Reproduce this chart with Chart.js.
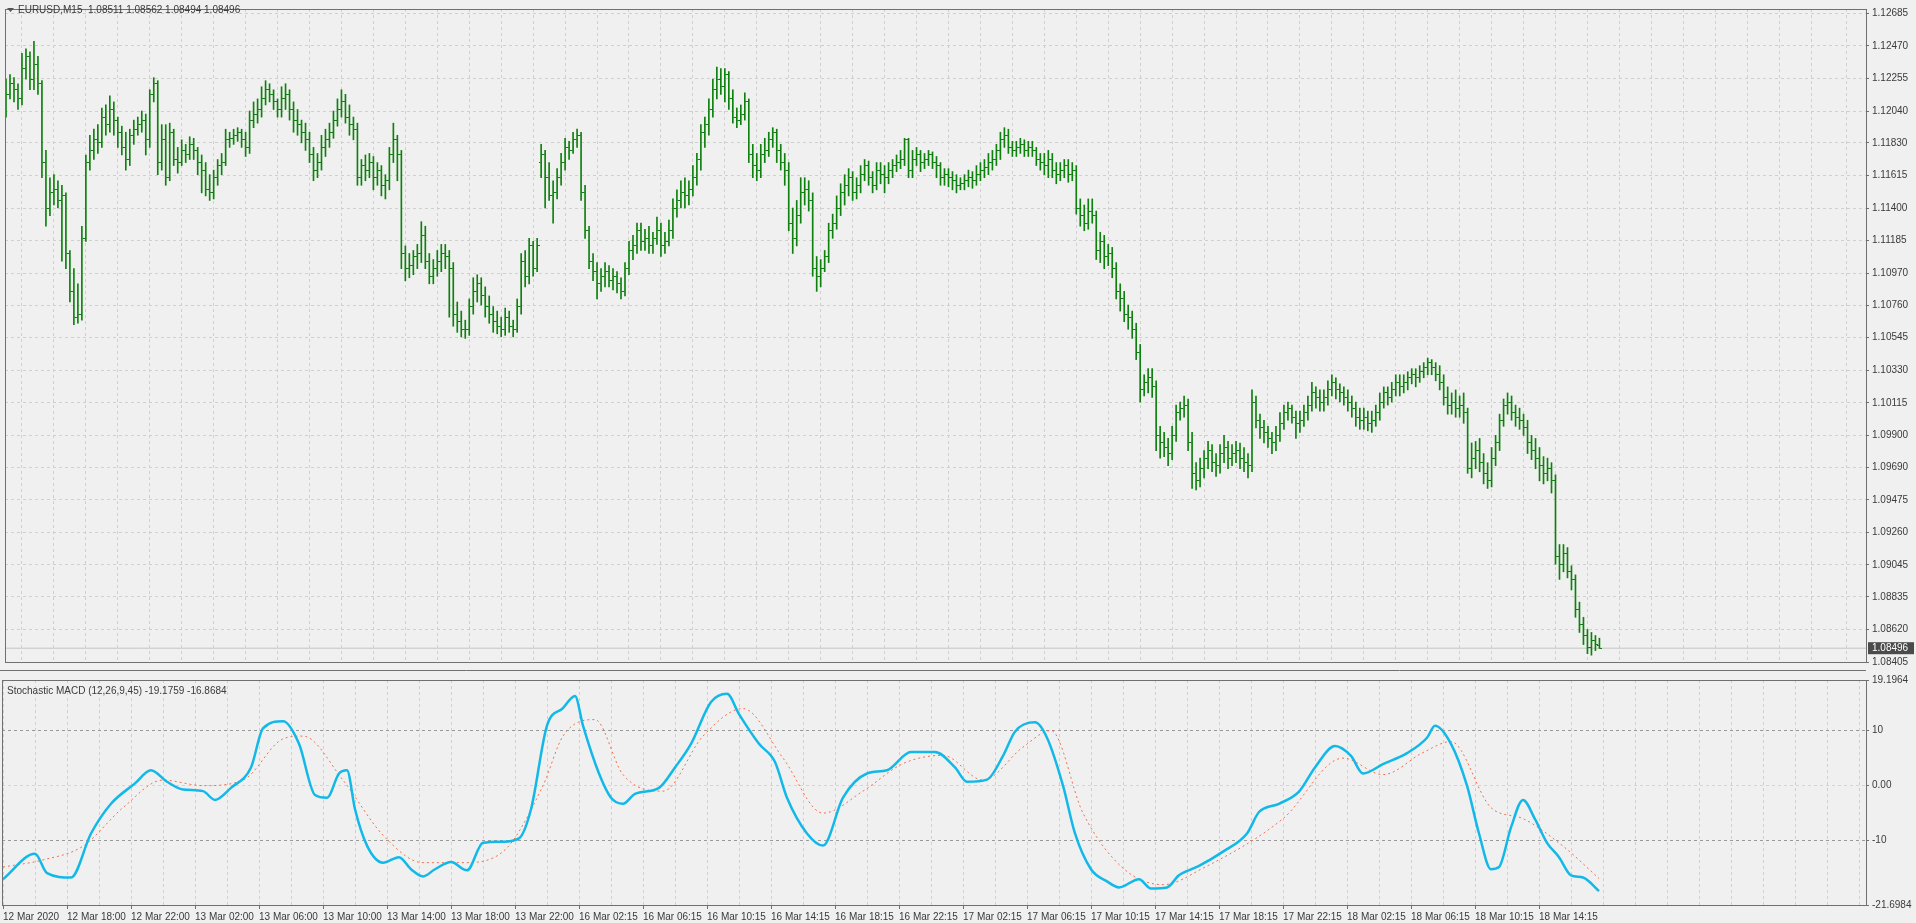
<!DOCTYPE html>
<html><head><meta charset="utf-8">
<script src="https://cdn.jsdelivr.net/npm/chart.js@4/dist/chart.umd.min.js"></script>
<style>
html,body{margin:0;padding:0;background:#f0f0f0;overflow:hidden;}
#wrap{position:relative;width:1916px;height:923px;background:#f0f0f0;}
canvas{position:absolute;left:0;}
</style></head><body><div id="wrap">
<canvas id="top" width="1916" height="671" style="top:0"></canvas>
<canvas id="bot" width="1916" height="252" style="top:671px"></canvas>
</div>
<script>
const symbolTitle = "EURUSD,M15  1.08511 1.08562 1.08494 1.08496";
const oscTitle = "Stochastic MACD (12,26,9,45) -19.1759 -16.8684";
const lastPrice = 1.08496;
const priceTicks = [1.12685,1.12470,1.12255,1.12040,1.11830,1.11615,1.11400,1.11185,1.10970,1.10760,1.10545,1.10330,1.10115,1.09900,1.09690,1.09475,1.09260,1.09045,1.08835,1.08620,1.08405];
const oscTicks = [-21.6984,-10,0,10,19.1964];
const oscTickLabels = ["-21.6984","-10","0.00","10","19.1964"];
const timeLabels = ["12 Mar 2020","12 Mar 18:00","12 Mar 22:00","13 Mar 02:00","13 Mar 06:00","13 Mar 10:00","13 Mar 14:00","13 Mar 18:00","13 Mar 22:00","16 Mar 02:15","16 Mar 06:15","16 Mar 10:15","16 Mar 14:15","16 Mar 18:15","16 Mar 22:15","17 Mar 02:15","17 Mar 06:15","17 Mar 10:15","17 Mar 14:15","17 Mar 18:15","17 Mar 22:15","18 Mar 02:15","18 Mar 06:15","18 Mar 10:15","18 Mar 14:15"];

const openP = [1.1210,1.1215,1.1222,1.1218,1.1212,1.1232,1.1240,1.1225,1.1235,1.1222,
1.1170,1.1140,1.1150,1.1152,1.1145,1.1148,1.1110,1.1085,1.1068,1.1070,
1.1120,1.1170,1.1178,1.1185,1.1183,1.1200,1.1195,1.1205,1.1198,1.1190,
1.1180,1.1172,1.1188,1.1192,1.1195,1.1198,1.1185,1.1215,1.1222,1.1170,
1.1185,1.1160,1.1190,1.1172,1.1170,1.1178,1.1175,1.1182,1.1178,1.1170,
1.1165,1.1152,1.1150,1.1160,1.1168,1.1170,1.1185,1.1186,1.1188,1.1190,
1.1185,1.1180,1.1198,1.1202,1.1205,1.1212,1.1218,1.1215,1.1210,1.1205,
1.1212,1.1215,1.1205,1.1198,1.1195,1.1190,1.1185,1.1175,1.1165,1.1170,
1.1180,1.1185,1.1190,1.1198,1.1205,1.1210,1.1200,1.1195,1.1192,1.1160,
1.1168,1.1165,1.1170,1.1160,1.1165,1.1155,1.1158,1.1175,1.1185,1.1175,
1.1110,1.1100,1.1102,1.1108,1.1110,1.1122,1.1105,1.1095,1.1100,1.1105,
1.1110,1.1108,1.1100,1.1070,1.1065,1.1060,1.1060,1.1075,1.1085,1.1090,
1.1082,1.1075,1.1070,1.1065,1.1062,1.1060,1.1068,1.1062,1.1060,1.1075,
1.1105,1.1095,1.1115,1.1100,1.1170,1.1175,1.1160,1.1148,1.1150,1.1160,
1.1170,1.1180,1.1178,1.1185,1.1188,1.1150,1.1125,1.1105,1.1098,1.1090,
1.1095,1.1098,1.1092,1.1095,1.1090,1.1085,1.1100,1.1112,1.1115,1.1125,
1.1118,1.1120,1.1115,1.1120,1.1125,1.1115,1.1118,1.1125,1.1140,1.1145,
1.1150,1.1148,1.1152,1.1160,1.1172,1.1190,1.1195,1.1205,1.1218,1.1225,
1.1220,1.1228,1.1212,1.1200,1.1198,1.1202,1.1210,1.1175,1.1168,1.1165,
1.1175,1.1178,1.1185,1.1190,1.1178,1.1170,1.1165,1.1130,1.1120,1.1135,
1.1150,1.1152,1.1145,1.1100,1.1095,1.1100,1.1108,1.1125,1.1130,1.1140,
1.1150,1.1155,1.1160,1.1150,1.1155,1.1162,1.1168,1.1160,1.1155,1.1165,
1.1162,1.1160,1.1165,1.1168,1.1170,1.1172,1.1185,1.1165,1.1172,1.1175,
1.1170,1.1172,1.1175,1.1170,1.1168,1.1160,1.1162,1.1160,1.1158,1.1155,
1.1156,1.1158,1.1160,1.1158,1.1162,1.1165,1.1167,1.1170,1.1172,1.1178,
1.1185,1.1188,1.1180,1.1178,1.1180,1.1182,1.1178,1.1180,1.1178,1.1172,
1.1170,1.1168,1.1172,1.1165,1.1162,1.1165,1.1168,1.1162,1.1165,1.1140,
1.1135,1.1130,1.1138,1.1135,1.1112,1.1118,1.1108,1.1110,1.1100,1.1085,
1.1080,1.1070,1.1068,1.1060,1.1045,1.1020,1.1025,1.1028,1.1022,1.0990,
1.0985,1.0982,1.0978,1.0990,1.1005,1.1008,1.1010,1.0985,1.0965,1.0960,
1.0968,1.0975,1.0980,1.0972,1.0970,1.0978,1.0982,1.0975,1.0978,1.0980,
1.0975,1.0972,1.0970,1.1012,1.1000,1.0995,1.0992,1.0988,1.0985,1.0990,
1.0998,1.1005,1.1008,1.1002,1.0998,1.1000,1.1005,1.1010,1.1018,1.1015,
1.1012,1.1015,1.1020,1.1025,1.1020,1.1018,1.1015,1.1012,1.1008,1.1002,
1.1000,1.1002,1.0998,1.1000,1.1005,1.1012,1.1018,1.1015,1.1020,1.1025,
1.1022,1.1025,1.1028,1.1030,1.1028,1.1032,1.1035,1.1038,1.1035,1.1030,
1.1025,1.1015,1.1010,1.1012,1.1008,1.1010,1.1005,1.0968,1.0975,1.0980,
1.0972,1.0965,1.0960,1.0975,1.0985,1.1000,1.1010,1.1012,1.1005,1.1002,
1.1000,1.0995,1.0985,1.0980,1.0975,1.0970,1.0965,1.0968,1.0960,1.0910,
1.0905,1.0912,1.0900,1.0895,1.0875,1.0865,1.0858,1.0850,1.0855,1.08511];
const highP = [1.1225,1.1228,1.1226,1.1222,1.1242,1.1245,1.1243,1.1250,1.1240,1.1224,
1.1178,1.1160,1.1162,1.1158,1.1155,1.1150,1.1112,1.1100,1.1090,1.1128,
1.1175,1.1188,1.1192,1.1195,1.1206,1.1208,1.1214,1.1210,1.1200,1.1194,
1.1190,1.1192,1.1198,1.1200,1.1204,1.1202,1.1218,1.1226,1.1224,1.1195,
1.1195,1.1196,1.1192,1.1180,1.1185,1.1182,1.1187,1.1186,1.1180,1.1175,
1.1170,1.1162,1.1165,1.1172,1.1176,1.1192,1.1190,1.1192,1.1193,1.1192,
1.1190,1.1204,1.1210,1.1212,1.1220,1.1224,1.1222,1.1218,1.1212,1.1220,
1.1222,1.1218,1.1210,1.1205,1.1198,1.1196,1.1190,1.1180,1.1176,1.1188,
1.1192,1.1196,1.1204,1.1212,1.1218,1.1215,1.1208,1.1200,1.1196,1.1172,
1.1175,1.1176,1.1174,1.1170,1.1168,1.1162,1.1180,1.1196,1.1188,1.1178,
1.1115,1.1110,1.1112,1.1116,1.1131,1.1128,1.1110,1.1106,1.1112,1.1116,
1.1116,1.1112,1.1104,1.1078,1.1072,1.1066,1.1080,1.1094,1.1096,1.1094,
1.1088,1.1082,1.1075,1.1072,1.1068,1.1074,1.1072,1.1066,1.1080,1.1110,
1.1112,1.1120,1.1118,1.1120,1.1182,1.1178,1.1170,1.1158,1.1166,1.1176,
1.1186,1.1184,1.1190,1.1192,1.1190,1.1155,1.1128,1.1110,1.1104,1.1100,
1.1104,1.1102,1.1100,1.1098,1.1094,1.1104,1.1118,1.1122,1.1130,1.1130,
1.1126,1.1128,1.1124,1.1134,1.1130,1.1124,1.1132,1.1146,1.1152,1.1158,
1.1160,1.1158,1.1168,1.1176,1.1195,1.1200,1.1212,1.1225,1.1233,1.1232,
1.1232,1.1230,1.1218,1.1206,1.1208,1.1216,1.1212,1.1182,1.1176,1.1182,
1.1186,1.1190,1.1193,1.1192,1.1182,1.1176,1.1170,1.1140,1.1145,1.1160,
1.1160,1.1158,1.1150,1.1108,1.1106,1.1112,1.1130,1.1136,1.1148,1.1156,
1.1162,1.1166,1.1164,1.1160,1.1168,1.1172,1.1171,1.1164,1.1170,1.1170,
1.1168,1.1170,1.1172,1.1175,1.1178,1.1186,1.1186,1.1178,1.1180,1.1178,
1.1176,1.1178,1.1177,1.1174,1.1170,1.1166,1.1166,1.1164,1.1162,1.1160,
1.1162,1.1165,1.1164,1.1168,1.1170,1.1172,1.1176,1.1178,1.1182,1.1190,
1.1193,1.1192,1.1184,1.1184,1.1186,1.1185,1.1184,1.1184,1.1180,1.1176,
1.1176,1.1178,1.1176,1.1170,1.1170,1.1172,1.1172,1.1170,1.1168,1.1146,
1.1142,1.1146,1.1146,1.1138,1.1124,1.1122,1.1116,1.1114,1.1104,1.1090,
1.1085,1.1076,1.1072,1.1064,1.1050,1.1030,1.1034,1.1034,1.1026,1.0996,
1.0992,1.0988,1.0996,1.1010,1.1012,1.1016,1.1014,1.0992,1.0972,1.0975,
1.0980,1.0986,1.0984,1.0978,1.0984,1.0990,1.0986,1.0984,1.0986,1.0985,
1.0982,1.0978,1.1020,1.1016,1.1004,1.1000,1.0996,1.0992,1.0996,1.1005,
1.1010,1.1012,1.1010,1.1006,1.1006,1.1010,1.1016,1.1025,1.1022,1.1020,
1.1020,1.1026,1.1030,1.1028,1.1024,1.1022,1.1020,1.1016,1.1012,1.1008,
1.1008,1.1006,1.1006,1.1010,1.1018,1.1022,1.1022,1.1025,1.1030,1.1030,
1.1030,1.1032,1.1034,1.1034,1.1036,1.1038,1.1041,1.1040,1.1038,1.1036,
1.1030,1.1022,1.1018,1.1020,1.1016,1.1018,1.1008,1.0985,1.0986,1.0988,
1.0978,1.0972,1.0982,1.0990,1.1004,1.1014,1.1018,1.1016,1.1010,1.1008,
1.1004,1.1000,1.0990,1.0988,1.0982,1.0976,1.0975,1.0972,1.0964,1.0918,
1.0918,1.0916,1.0904,1.0898,1.0880,1.0870,1.0862,1.0860,1.0858,1.08562];
const lowP = [1.1200,1.1212,1.1210,1.1205,1.1208,1.1225,1.1218,1.1218,1.1215,1.1160,
1.1128,1.1135,1.1142,1.1140,1.1105,1.1100,1.1078,1.1063,1.1064,1.1066,
1.1118,1.1165,1.1172,1.1176,1.1180,1.1188,1.1190,1.1188,1.1180,1.1175,
1.1165,1.1168,1.1182,1.1188,1.1190,1.1175,1.1180,1.1210,1.1162,1.1165,
1.1155,1.1158,1.1168,1.1163,1.1168,1.1170,1.1172,1.1172,1.1162,1.1150,
1.1148,1.1145,1.1146,1.1155,1.1162,1.1168,1.1180,1.1182,1.1184,1.1180,
1.1174,1.1176,1.1193,1.1196,1.1200,1.1208,1.1210,1.1205,1.1200,1.1200,
1.1205,1.1198,1.1190,1.1188,1.1183,1.1178,1.1170,1.1158,1.1160,1.1165,
1.1174,1.1180,1.1186,1.1194,1.1200,1.1196,1.1188,1.1185,1.1155,1.1155,
1.1158,1.1160,1.1152,1.1155,1.1148,1.1146,1.1152,1.1170,1.1158,1.1100,
1.1092,1.1094,1.1096,1.1100,1.1104,1.1100,1.1090,1.1090,1.1095,1.1098,
1.1100,1.1068,1.1062,1.1058,1.1055,1.1054,1.1056,1.1070,1.1078,1.1076,
1.1068,1.1064,1.1058,1.1057,1.1055,1.1056,1.1058,1.1055,1.1058,1.1070,
1.1088,1.1090,1.1095,1.1098,1.1160,1.1140,1.1145,1.1130,1.1146,1.1155,
1.1165,1.1172,1.1176,1.1180,1.1145,1.1120,1.1100,1.1092,1.1080,1.1085,
1.1088,1.1088,1.1086,1.1084,1.1080,1.1082,1.1096,1.1106,1.1110,1.1112,
1.1112,1.1110,1.1110,1.1116,1.1108,1.1110,1.1115,1.1120,1.1134,1.1140,
1.1140,1.1142,1.1148,1.1155,1.1165,1.1180,1.1188,1.1200,1.1212,1.1215,
1.1210,1.1205,1.1196,1.1193,1.1195,1.1198,1.1170,1.1160,1.1158,1.1160,
1.1170,1.1174,1.1180,1.1170,1.1165,1.1155,1.1125,1.1110,1.1115,1.1130,
1.1142,1.1138,1.1095,1.1085,1.1088,1.1098,1.1104,1.1120,1.1126,1.1135,
1.1142,1.1148,1.1145,1.1146,1.1150,1.1158,1.1155,1.1150,1.1152,1.1156,
1.1150,1.1156,1.1160,1.1164,1.1166,1.1168,1.1160,1.1160,1.1168,1.1164,
1.1166,1.1168,1.1166,1.1160,1.1155,1.1155,1.1154,1.1152,1.1150,1.1152,
1.1152,1.1154,1.1153,1.1155,1.1158,1.1160,1.1162,1.1165,1.1168,1.1172,
1.1180,1.1176,1.1174,1.1174,1.1176,1.1174,1.1174,1.1174,1.1168,1.1165,
1.1162,1.1160,1.1160,1.1156,1.1158,1.1160,1.1157,1.1158,1.1136,1.1128,
1.1125,1.1126,1.1130,1.1106,1.1104,1.1100,1.1102,1.1094,1.1080,1.1072,
1.1065,1.1060,1.1054,1.1040,1.1012,1.1016,1.1018,1.1015,1.0980,1.0975,
1.0976,1.0970,1.0974,1.0986,1.1000,1.1002,1.0980,1.0955,1.0954,1.0956,
1.0962,1.0968,1.0966,1.0963,1.0965,1.0972,1.0968,1.0970,1.0972,1.0968,
1.0966,1.0962,1.0966,1.0995,1.0988,1.0985,1.0982,1.0978,1.0980,1.0986,
1.0994,1.1000,1.0998,1.0988,1.0992,1.0996,1.1000,1.1006,1.1008,1.1006,
1.1006,1.1010,1.1016,1.1014,1.1012,1.1010,1.1006,1.1002,1.0996,1.0994,
1.0994,1.0993,1.0992,1.0996,1.1000,1.1008,1.1010,1.1012,1.1016,1.1016,
1.1018,1.1020,1.1024,1.1022,1.1025,1.1028,1.1030,1.1030,1.1026,1.1020,
1.1010,1.1004,1.1004,1.1002,1.1002,1.0998,1.0965,1.0962,1.0968,1.0966,
1.0958,1.0955,1.0956,1.0970,1.0980,1.0996,1.1004,1.1000,1.0996,1.0994,
1.0990,1.0978,1.0974,1.0968,1.0960,1.0958,1.0960,1.0952,1.0905,1.0895,
1.0900,1.0896,1.0888,1.0870,1.0860,1.0852,1.0846,1.0845,1.0848,1.08494];
const closeP = [1.1215,1.1222,1.1218,1.1212,1.1232,1.1240,1.1225,1.1235,1.1222,1.1170,
1.1140,1.1150,1.1152,1.1145,1.1148,1.1110,1.1085,1.1068,1.1070,1.1120,
1.1170,1.1178,1.1185,1.1183,1.1200,1.1195,1.1205,1.1198,1.1190,1.1180,
1.1172,1.1188,1.1192,1.1195,1.1198,1.1185,1.1215,1.1222,1.1170,1.1185,
1.1160,1.1190,1.1172,1.1170,1.1178,1.1175,1.1182,1.1178,1.1170,1.1165,
1.1152,1.1150,1.1160,1.1168,1.1170,1.1185,1.1186,1.1188,1.1190,1.1185,
1.1180,1.1198,1.1202,1.1205,1.1212,1.1218,1.1215,1.1210,1.1205,1.1212,
1.1215,1.1205,1.1198,1.1195,1.1190,1.1185,1.1175,1.1165,1.1170,1.1180,
1.1185,1.1190,1.1198,1.1205,1.1210,1.1200,1.1195,1.1192,1.1160,1.1168,
1.1165,1.1170,1.1160,1.1165,1.1155,1.1158,1.1175,1.1185,1.1175,1.1110,
1.1100,1.1102,1.1108,1.1110,1.1122,1.1105,1.1095,1.1100,1.1105,1.1110,
1.1108,1.1100,1.1070,1.1065,1.1060,1.1060,1.1075,1.1085,1.1090,1.1082,
1.1075,1.1070,1.1065,1.1062,1.1060,1.1068,1.1062,1.1060,1.1075,1.1105,
1.1095,1.1115,1.1100,1.1115,1.1175,1.1160,1.1148,1.1150,1.1160,1.1170,
1.1180,1.1178,1.1185,1.1188,1.1150,1.1125,1.1105,1.1098,1.1090,1.1095,
1.1098,1.1092,1.1095,1.1090,1.1085,1.1100,1.1112,1.1115,1.1125,1.1118,
1.1120,1.1115,1.1120,1.1125,1.1115,1.1118,1.1125,1.1140,1.1145,1.1150,
1.1148,1.1152,1.1160,1.1172,1.1190,1.1195,1.1205,1.1218,1.1225,1.1220,
1.1228,1.1212,1.1200,1.1198,1.1202,1.1210,1.1175,1.1168,1.1165,1.1175,
1.1178,1.1185,1.1190,1.1178,1.1170,1.1165,1.1130,1.1120,1.1135,1.1150,
1.1152,1.1145,1.1100,1.1095,1.1100,1.1108,1.1125,1.1130,1.1140,1.1150,
1.1155,1.1160,1.1150,1.1155,1.1162,1.1168,1.1160,1.1155,1.1165,1.1162,
1.1160,1.1165,1.1168,1.1170,1.1172,1.1185,1.1165,1.1172,1.1175,1.1170,
1.1172,1.1175,1.1170,1.1168,1.1160,1.1162,1.1160,1.1158,1.1155,1.1156,
1.1158,1.1160,1.1158,1.1162,1.1165,1.1167,1.1170,1.1172,1.1178,1.1185,
1.1188,1.1180,1.1178,1.1180,1.1182,1.1178,1.1180,1.1178,1.1172,1.1170,
1.1168,1.1172,1.1165,1.1162,1.1165,1.1168,1.1162,1.1165,1.1140,1.1135,
1.1130,1.1138,1.1135,1.1112,1.1118,1.1108,1.1110,1.1100,1.1085,1.1080,
1.1070,1.1068,1.1060,1.1045,1.1020,1.1025,1.1028,1.1022,1.0990,1.0985,
1.0982,1.0978,1.0990,1.1005,1.1008,1.1010,1.0985,1.0965,1.0960,1.0968,
1.0975,1.0980,1.0972,1.0970,1.0978,1.0982,1.0975,1.0978,1.0980,1.0975,
1.0972,1.0970,1.1012,1.1000,1.0995,1.0992,1.0988,1.0985,1.0990,1.0998,
1.1005,1.1008,1.1002,1.0998,1.1000,1.1005,1.1010,1.1018,1.1015,1.1012,
1.1015,1.1020,1.1025,1.1020,1.1018,1.1015,1.1012,1.1008,1.1002,1.1000,
1.1002,1.0998,1.1000,1.1005,1.1012,1.1018,1.1015,1.1020,1.1025,1.1022,
1.1025,1.1028,1.1030,1.1028,1.1032,1.1035,1.1038,1.1035,1.1030,1.1025,
1.1015,1.1010,1.1012,1.1008,1.1010,1.1005,1.0968,1.0975,1.0980,1.0972,
1.0965,1.0960,1.0975,1.0985,1.1000,1.1010,1.1012,1.1005,1.1002,1.1000,
1.0995,1.0985,1.0980,1.0975,1.0970,1.0965,1.0968,1.0960,1.0910,1.0905,
1.0912,1.0900,1.0895,1.0875,1.0865,1.0858,1.0850,1.0855,1.0852,1.08496];

const macdBar = [0,8,11,17,22,27,33,37,41,45,50,53,57,62,65,70,74,78,81,84,86,88,91,95,99,102,105,108,112,116,120,125,129,132,136,140,143,145,149,152,155,158,164,168,172,177,181,184,189,193,196,201,205,210,216,221,227,233,238,241,246,250,253,258,261,265,268,272,276,279,284,287,291,294,299,305,311,314,319,324,328,333,337,340,345,351,356,358,362,366,369,372,374,377,380,383,386,389,392,395,399];
const macdVal = [-17,-12.4,-15.9,-16.7,-8.7,-3.3,0.4,2.8,0.7,-0.7,-1,-2.6,-0.4,3.3,10.4,11.7,7.6,-1.7,-2.2,2.2,2.8,-4.3,-10.9,-14,-13,-15.2,-16.5,-15.2,-13.9,-15.4,-10.4,-10.2,-9.6,-4.3,10.9,14.1,16.3,10.9,2.2,-2.2,-3.3,-1.5,-0.4,3.3,7.6,15.2,16.7,13,7.6,4.3,-2.2,-8.7,-10.9,-2.2,2.2,2.8,6.1,6.1,3.3,0.7,1.1,5.4,9.8,11.5,8.7,0,-8.7,-15.2,-17.4,-18.5,-17,-18.7,-18.5,-16.3,-14.6,-12,-8.7,-4.8,-3.3,-1.1,3.3,7.2,5.4,2.2,3.9,5.9,8.7,10.9,7.6,0,-8.7,-15.2,-14.8,-7.6,-2.6,-6.1,-10.4,-13,-16.3,-16.7,-19.18];
const sigBar = [0,10,20,30,40,50,60,70,75,85,95,105,115,125,135,140,148,155,165,175,185,195,205,215,225,235,245,255,262,270,280,290,300,320,335,345,355,362,372,380,390,399];
const sigVal = [-14.8,-13.5,-11,-4,1,0,1,8.5,9,1,-9,-14,-14,-12,0,9,12,2,-1,9,14,5,-5,-1,4,5.5,1,7,10,-5,-15,-18,-15,-6,5,2,6,8,-4,-6,-11,-16.87];

const FAM = '"Liberation Sans", Tahoma, Arial, sans-serif';
const FONT = {family:FAM, size:10};
const TXT = '#3a3a3a';
Chart.defaults.font = FONT;
Chart.defaults.color = TXT;
const GRID = '#cfcfcf';
const BARC = '#0d800d';
const XMIN = -0.25, XMAX = 465.75;

function tickImg(left){
  const c=document.createElement('canvas'); c.width=5; c.height=1;
  const g=c.getContext('2d'); g.fillStyle=BARC;
  if(left) g.fillRect(0,0,2,1); else g.fillRect(3,0,2,1);
  return c;
}
const frame = {id:'frame', afterDraw(ch, a, o){
  const {ctx, chartArea:ca}=ch; ctx.save();
  ctx.strokeStyle='#707070'; ctx.lineWidth=1;
  ctx.strokeRect(ca.left+0.5, ca.top+0.5, ca.right-ca.left, ca.bottom-ca.top);
  ctx.fillStyle=TXT; ctx.font='10px '+FAM; ctx.textBaseline='middle';
  if(o.kind==='top'){
    ctx.fillStyle='#555'; ctx.beginPath(); ctx.moveTo(7,8); ctx.lineTo(14,8); ctx.lineTo(10.5,12); ctx.fill();
    ctx.fillStyle=TXT; ctx.fillText(symbolTitle, 18, 10);
    const y=ch.scales.y.getPixelForValue(lastPrice);
    ctx.fillStyle='#4b4b4b'; ctx.fillRect(ca.right+2, y-6, 46, 12);
    ctx.fillStyle='#fff'; ctx.fillText(lastPrice.toFixed(5), ca.right+6, y);
    ctx.strokeStyle='#707070'; ctx.beginPath(); ctx.moveTo(0, ch.height-0.5); ctx.lineTo(ca.right, ch.height-0.5); ctx.stroke();
  } else {
    ctx.fillText(oscTitle, 7, ca.top+11);
  }
  ctx.restore();
}};

const idx = closeP.map((_,i)=>i);
new Chart(document.getElementById('top'), {
  type:'bar',
  data:{datasets:[
    {type:'bar', data: idx.map(i=>({x:i, y:[lowP[i], highP[i]]})), backgroundColor:BARC, barThickness:1, grouped:false},
    {type:'line', showLine:false, data: idx.map(i=>({x:i, y:openP[i]})), pointStyle:tickImg(true), pointRadius:2.5},
    {type:'line', showLine:false, data: idx.map(i=>({x:i, y:closeP[i]})), pointStyle:tickImg(false), pointRadius:2.5},
    {type:'line', data:[{x:XMIN,y:lastPrice},{x:XMAX,y:lastPrice}], borderColor:'#c4c4c4', borderWidth:1, pointRadius:0}
  ]},
  options:{
    responsive:false, animation:false, devicePixelRatio:1,
    layout:{padding:{left:2, top:2, right:0, bottom:1}},
    plugins:{legend:{display:false}, tooltip:{enabled:false}, frame:{kind:'top'}},
    scales:{
      x:{type:'linear', min:XMIN, max:XMAX, offset:false,
         ticks:{display:false, stepSize:8},
         grid:{color:GRID, drawTicks:false, tickLength:0}, border:{display:false, dash:[3,3]},
         afterFit(s){s.height=0;}},
      y:{position:'right', min:1.08405, max:1.12713,
         afterBuildTicks(s){s.ticks=priceTicks.map(v=>({value:v}));},
         ticks:{callback:v=>Number(v).toFixed(5), padding:3, color:TXT},
         grid:{color:GRID, tickColor:'#707070', tickLength:3, tickBorderDash:[]},
         border:{display:false, dash:[3,3]},
         afterFit(s){s.width=50;}}
    }
  },
  plugins:[frame]
});

new Chart(document.getElementById('bot'), {
  type:'line',
  data:{datasets:[
    {data: macdBar.map((b,i)=>({x:b, y:macdVal[i]})), borderColor:'#12b8e8', borderWidth:2.5, pointRadius:0, tension:0.4, cubicInterpolationMode:'monotone'},
    {data: sigBar.map((b,i)=>({x:b, y:sigVal[i]})), borderColor:'#f0704a', borderWidth:1, borderDash:[2,3], pointRadius:0, tension:0.4, cubicInterpolationMode:'monotone'}
  ]},
  options:{
    responsive:false, animation:false, devicePixelRatio:1,
    layout:{padding:{left:2, top:2, right:0, bottom:0}},
    plugins:{legend:{display:false}, tooltip:{enabled:false}, frame:{kind:'bot'}},
    scales:{
      x:{type:'linear', min:XMIN, max:XMAX,
         afterBuildTicks(s){const t=[]; for(let v=0; v<=XMAX; v+=8) t.push({value:v}); s.ticks=t;},
         ticks:{autoSkip:false, maxRotation:0, minRotation:0, align:'start', padding:2, color:TXT,
                callback:v=>(v%16===0 && timeLabels[v/16]) ? timeLabels[v/16] : ''},
         grid:{color:GRID, tickColor:c=>(c.tick && c.tick.value%16===0 && c.tick.value<=384)?'#707070':'rgba(0,0,0,0)', tickLength:4, tickBorderDash:[]},
         border:{display:false, dash:[3,3]},
         afterFit(s){s.height=18;}},
      y:{position:'right', min:-21.6984, max:19.1964,
         afterBuildTicks(s){s.ticks=oscTicks.map(v=>({value:v}));},
         ticks:{callback:(v)=>{const k=oscTicks.indexOf(v); return k>=0?oscTickLabels[k]:'';}, padding:3, color:TXT},
         grid:{color:c=>(Math.abs(c.tick.value)===10?'#9a9a9a':(c.tick.value===0?'#d4d4d4':'rgba(0,0,0,0)')), tickColor:'#707070', tickLength:3, tickBorderDash:[]},
         border:{display:false, dash:[3,3]},
         afterFit(s){s.width=50;}}
    }
  },
  plugins:[frame]
});
</script></body></html>
